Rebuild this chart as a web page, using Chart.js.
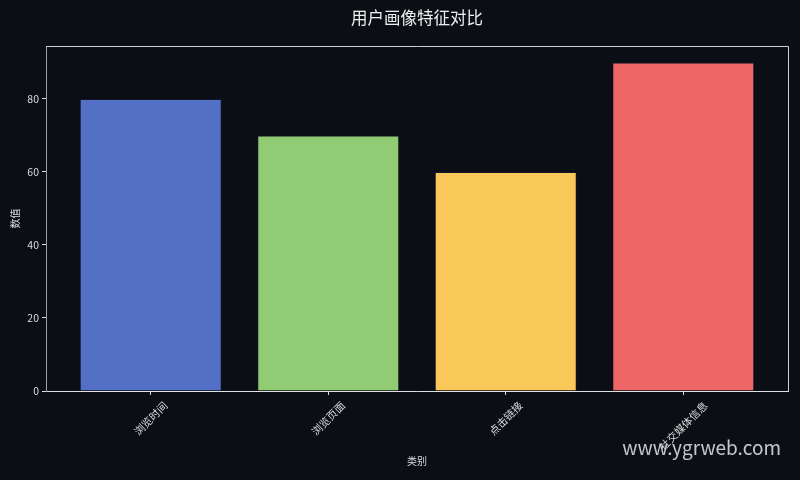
<!DOCTYPE html>
<html>
<head>
<meta charset="utf-8">
<script src="https://cdn.jsdelivr.net/npm/chart.js@4"></script>
<style>
  html, body { margin: 0; padding: 0; background: #0b0e14; }
  #wrap { width: 800px; height: 480px; }
</style>
</head>
<body>
<div id="wrap"><canvas id="grafica"></canvas></div>
<script>
// datos del grafico
const categorias = ['浏览时间', '浏览页面', '点击链接', '社交媒体信息'];
const valores = [80, 70, 60, 90];
const colores = ['#5470c6', '#91cc75', '#fac858', '#ee6666'];
const ticksY = [0, 20, 40, 60, 80];

const fuente = "'Noto Sans CJK SC', 'DejaVu Sans', sans-serif";
const colorTexto = '#dcdcdc';

// marco, titulo, etiquetas de ejes y marca de agua
const decoracion = {
    id: 'decoracion',
    afterDraw(chart) {
        const { ctx, chartArea: a } = chart;
        const ejeX = chart.scales.x;
        ctx.save();
        ctx.strokeStyle = '#d0d0d0';
        ctx.lineWidth = 1;
        ctx.beginPath();
        ctx.moveTo(a.left, a.top + 0.5);
        ctx.lineTo(a.right + 0.5, a.top + 0.5);
        ctx.lineTo(a.right + 0.5, a.bottom);
        ctx.stroke();

        // etiquetas de categorias giradas 45 grados, centradas en el tick
        ctx.fillStyle = colorTexto;
        ctx.font = '10.5px ' + fuente;
        ctx.textAlign = 'center';
        ctx.textBaseline = 'middle';
        categorias.forEach((c, i) => {
            const w = ctx.measureText(c).width;
            const cx = ejeX.getPixelForValue(i);
            const cy = a.bottom + 9 + (w + 10) * Math.SQRT1_2 / 2;
            ctx.save();
            ctx.translate(cx, cy);
            ctx.rotate(-Math.PI / 4);
            ctx.fillText(c, 0, 0);
            ctx.restore();
        });

        ctx.fillStyle = '#eeeeee';
        ctx.font = '16.5px ' + fuente;
        ctx.fillText('用户画像特征对比', (a.left + a.right) / 2, 18);

        ctx.fillStyle = colorTexto;
        ctx.font = '10px ' + fuente;
        ctx.fillText('类别', (a.left + a.right) / 2, 461);

        ctx.save();
        ctx.translate(15, (a.top + a.bottom) / 2);
        ctx.rotate(-Math.PI / 2);
        ctx.fillText('数值', 0, 0);
        ctx.restore();

        ctx.fillStyle = 'rgba(230,230,230,0.85)';
        ctx.font = '19px ' + fuente;
        ctx.textAlign = 'right';
        ctx.fillText('www.ygrweb.com', 781, 448);
        ctx.restore();
    }
};

const ctx = document.getElementById('grafica').getContext('2d');
new Chart(ctx, {
    type: 'bar',
    data: {
        datasets: [{
            data: valores.map((v, i) => ({ x: i, y: v })),
            backgroundColor: colores,
            borderColor: 'rgba(20,25,45,0.8)',
            borderWidth: 1,
            barPercentage: 0.8,
            categoryPercentage: 1
        }]
    },
    plugins: [decoracion],
    options: {
        responsive: true,
        maintainAspectRatio: false,
        animation: false,
        layout: { padding: { top: 46, right: 12, left: 0, bottom: 0 } },
        plugins: {
            legend: { display: false },
            tooltip: { enabled: false }
        },
        scales: {
            x: {
                type: 'linear',
                offset: false,
                min: -0.59,
                max: 3.59,
                afterFit: s => { s.height = 89; },
                afterBuildTicks: s => { s.ticks = categorias.map((c, i) => ({ value: i })); },
                border: { display: true, color: '#e0e0e0', width: 1 },
                grid: { display: true, offset: false, drawOnChartArea: false, drawTicks: true, tickLength: 4, color: '#e0e0e0' },
                ticks: { display: false }
            },
            y: {
                min: 0,
                max: 94.5,
                afterFit: s => { s.width = 46; },
                afterBuildTicks: s => { s.ticks = ticksY.map(v => ({ value: v })); },
                border: { display: true, color: '#a0a0a0', width: 1 },
                grid: { display: true, drawOnChartArea: false, drawTicks: true, tickLength: 4, color: '#e0e0e0' },
                ticks: {
                    color: colorTexto,
                    font: { family: fuente, size: 10.5 },
                    padding: 3
                }
            }
        }
    }
});
</script>
</body>
</html>
